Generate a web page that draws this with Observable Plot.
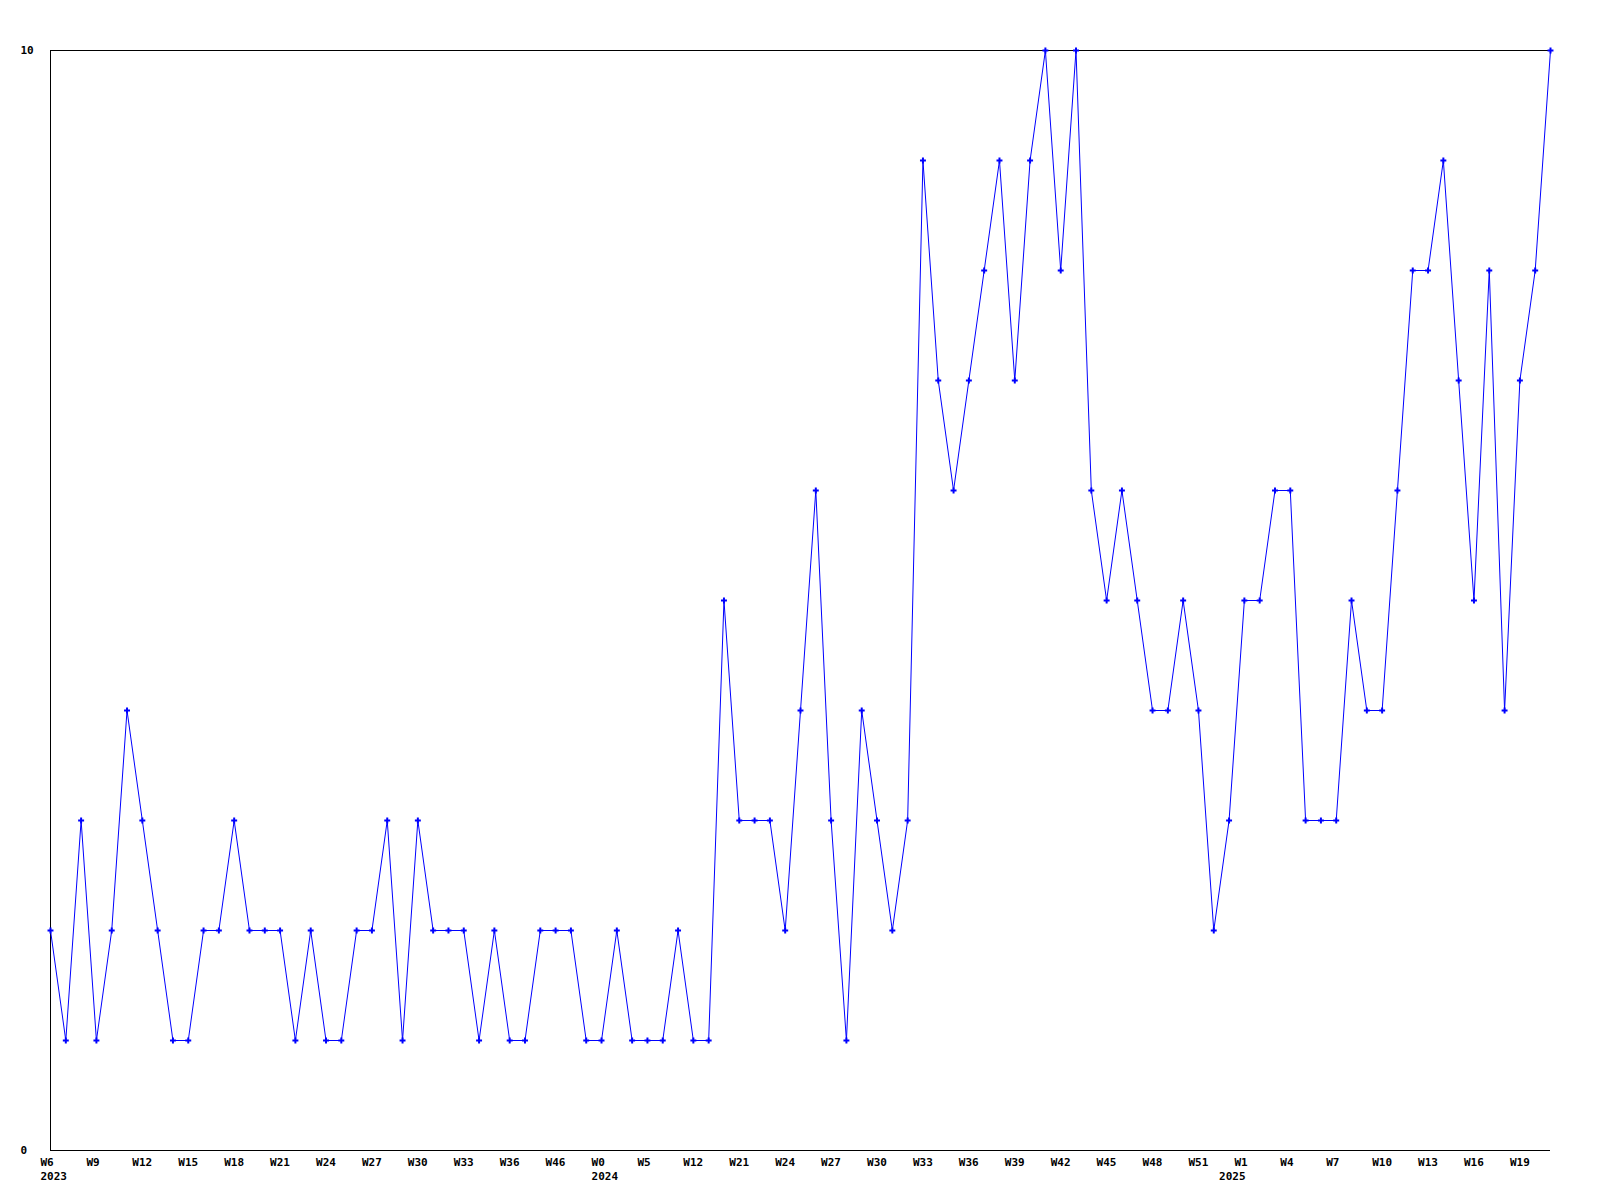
<!DOCTYPE html>
<html>
<head>
<meta charset="utf-8">
<script src="https://cdn.jsdelivr.net/npm/d3@7"></script>
<script src="https://cdn.jsdelivr.net/npm/@observablehq/plot@0.6"></script>
<style>
  html, body { margin: 0; padding: 0; background: #fff; }
</style>
</head>
<body>
<div id="chart"></div>
<script>
const values = [
  2, 1, 3, 1, 2, 4, 3, 2, 1, 1,
  2, 2, 3, 2, 2, 2, 1, 2, 1, 1,
  2, 2, 3, 1, 3, 2, 2, 2, 1, 2,
  1, 1, 2, 2, 2, 1, 1, 2, 1, 1,
  1, 2, 1, 1, 5, 3, 3, 3, 2, 4,
  6, 3, 1, 4, 3, 2, 3, 9, 7, 6,
  7, 8, 9, 7, 9, 10, 8, 10, 6, 5,
  6, 5, 4, 4, 5, 4, 2, 3, 5, 5,
  6, 6, 3, 3, 3, 5, 4, 4, 6, 8,
  8, 9, 7, 5, 8, 4, 7, 8, 10
];
const weekLabels = [
  "W6", "W9", "W12", "W15", "W18", "W21", "W24", "W27", "W30", "W33", "W36",
  "W46", "W0", "W5", "W12", "W21", "W24", "W27", "W30", "W33", "W36", "W39",
  "W42", "W45", "W48", "W51", "W1", "W4", "W7", "W10", "W13", "W16", "W19"
];
const labelEvery = 3;
const yearLabels = ["2023", "2024", "2025"];
const yearStartIndex = [0, 36, 77];
const yTicks = [0, 10];

const data = values.map((v, i) => ({i, v}));
const weekTicks = weekLabels.map((_, k) => k * labelEvery);
const weekMap = new Map(weekTicks.map((t, k) => [t, weekLabels[k]]));
const yearMap = new Map(yearStartIndex.map((t, k) => [t, yearLabels[k]]));

const font = {fontFamily: "DejaVu Sans Mono", fontSize: 11, fontWeight: "bold", fill: "#000"};

const chart = Plot.plot({
  width: 1600,
  height: 1200,
  marginLeft: 50,
  marginRight: 50,
  marginTop: 50,
  marginBottom: 50,
  style: {background: "#fff", color: "#000"},
  x: {type: "linear", domain: [0, values.length - 1], label: null},
  y: {type: "linear", domain: [0, 10], label: null},
  marks: [
    Plot.ruleY([0, 10], {stroke: "#000", strokeWidth: 1}),
    Plot.ruleX([0], {stroke: "#000", strokeWidth: 1}),
    Plot.axisX({ticks: weekTicks, tickFormat: d => weekMap.get(d), tickSize: 0, tickPadding: 8,
      textAnchor: "start", dx: -10, label: null, ...font}),
    Plot.axisX({ticks: yearStartIndex, tickFormat: d => yearMap.get(d), tickSize: 0, tickPadding: 22,
      textAnchor: "start", dx: -10, label: null, ...font}),
    Plot.axisY({ticks: yTicks, tickFormat: d => String(d), tickSize: 0, tickPadding: 0,
      textAnchor: "start", dx: -30, label: null, ...font}),
    Plot.line(data, {x: "i", y: "v", stroke: "#0000ff", strokeWidth: 1}),
    Plot.dot(data, {x: "i", y: "v", symbol: "cross", r: 2.5, fill: "#0000ff", stroke: "none"})
  ]
});
document.getElementById("chart").appendChild(chart);
</script>
</body>
</html>
